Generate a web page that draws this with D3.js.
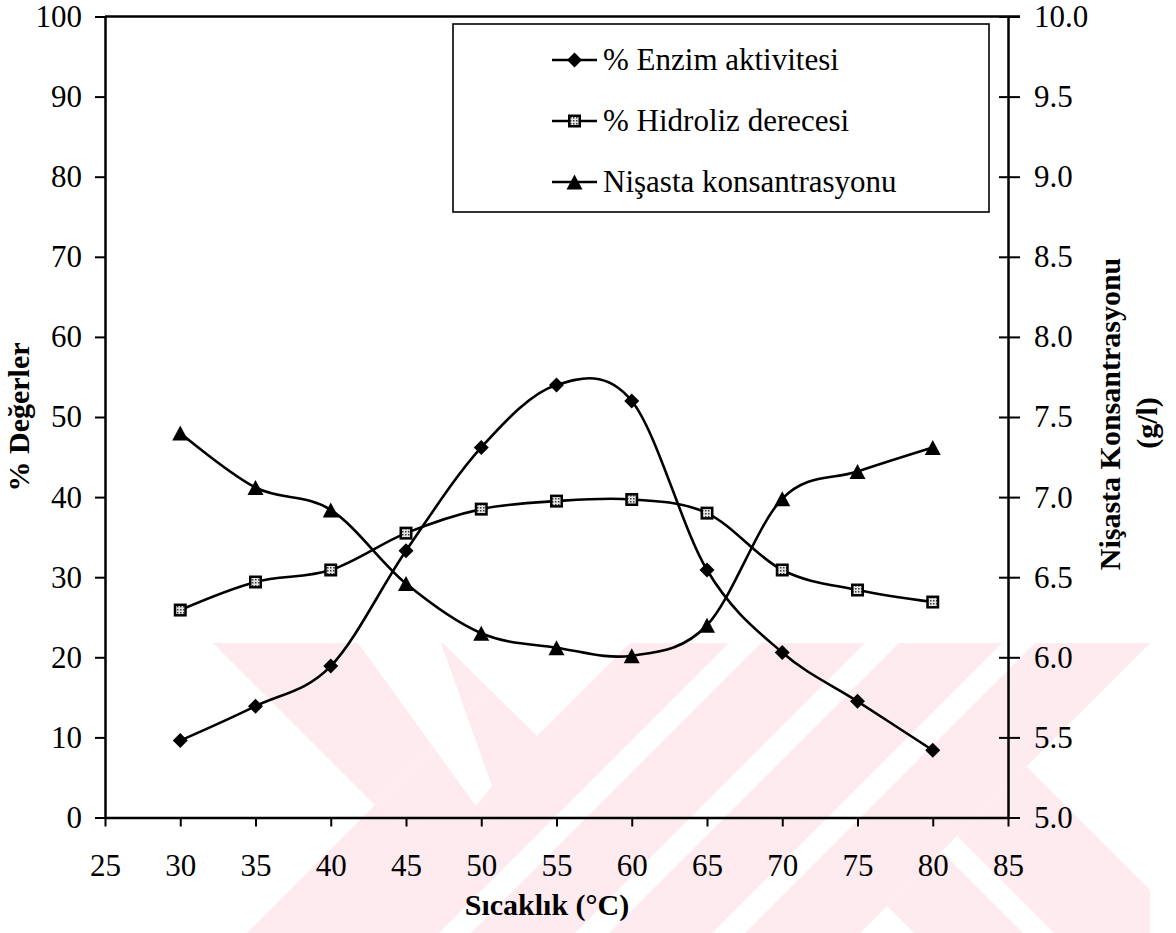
<!DOCTYPE html>
<html>
<head>
<meta charset="utf-8">
<script src="https://cdn.jsdelivr.net/npm/d3@7"></script>
<style>
  html, body { margin: 0; padding: 0; background: #fff; }
  svg { display: block; }
  svg text { font-family: "Liberation Serif", "Times New Roman", Times, serif !important; }
</style>
</head>
<body>
<svg id="chart" width="1176" height="933"></svg>
<script>
// Sıcaklık (°C) and the three measured series
const temperatures = [30, 35, 40, 45, 50, 55, 60, 65, 70, 75, 80];
const enzymeActivity = [9.6, 13.9, 18.9, 33.3, 46.2, 54.0, 52.0, 30.9, 20.6, 14.5, 8.4];
const hydrolysisDegree = [25.9, 29.4, 30.9, 35.5, 38.5, 39.5, 39.7, 38.0, 30.9, 28.4, 26.9];
const starchConcentration = [7.40, 7.06, 6.92, 6.46, 6.15, 6.06, 6.01, 6.20, 6.99, 7.16, 7.31];

// Axis ticks
const xTickValues = [25, 30, 35, 40, 45, 50, 55, 60, 65, 70, 75, 80, 85];
const leftTickValues = [0, 10, 20, 30, 40, 50, 60, 70, 80, 90, 100];
const rightTickValues = [5.0, 5.5, 6.0, 6.5, 7.0, 7.5, 8.0, 8.5, 9.0, 9.5, 10.0];

// Legend labels
const seriesNames = ["% Enzim aktivitesi", "% Hidroliz derecesi", "Nişasta konsantrasyonu"];
const markerTypes = ["diamond", "square", "triangle"];

const svg = d3.select("#chart");
const plot = { left: 105, right: 1008, top: 16.5, bottom: 817.5 };

const x = d3.scaleLinear().domain([25, 85]).range([plot.left, plot.right]);
const yLeft = d3.scaleLinear().domain([0, 100]).range([plot.bottom, plot.top]);
const yRight = d3.scaleLinear().domain([5, 10]).range([plot.bottom, plot.top]);

// ---- background watermark: pink diagonal bands ----
function clipPoly(poly, a, b, c) {
  const out = [];
  for (let i = 0; i < poly.length; i++) {
    const p = poly[i], q = poly[(i + 1) % poly.length];
    const fp = a * p[0] + b * p[1] + c, fq = a * q[0] + b * q[1] + c;
    if (fp >= 0) out.push(p);
    if ((fp >= 0) !== (fq >= 0)) {
      const t = fp / (fp - fq);
      out.push([p[0] + (q[0] - p[0]) * t, p[1] + (q[1] - p[1]) * t]);
    }
  }
  return out;
}
const markBox = [[200, 643], [1150, 643], [1150, 933], [200, 933]];
// u = x + y (bands running "/"), v = x - y (bands running "\")
function band(kind, lo, hi, extra) {
  let p = markBox.slice();
  if (kind === "u") { p = clipPoly(p, 1, 1, -lo); p = clipPoly(p, -1, -1, hi); }
  else { p = clipPoly(p, 1, -1, -lo); p = clipPoly(p, -1, 1, hi); }
  (extra || []).forEach(h => { p = clipPoly(p, h[0], h[1], h[2]); });
  return p;
}
const pinkBands = [
  band("u", 1180, 1372),
  band("u", 1404, 1508),
  band("u", 1542, 1645),
  band("u", 1678, 1793),
  band("v", -430, -200, [[-1, -1, 1180]]),
  band("v", -19, 90, [[1, 1, -1793]]),
  band("v", 121, 260, [[1, 1, -1793]])
];
const whiteCuts = [
  [[443, 643], [630, 643], [537, 736]],
  [[358, 643], [441, 643], [492, 786], [476, 806]]
];
const wm = svg.append("g").attr("class", "watermark");
wm.selectAll("path.pink").data(pinkBands).join("path")
  .attr("class", "pink")
  .attr("d", d => "M" + d.map(p => p.join(",")).join("L") + "Z")
  .attr("fill", "#fdebef");
wm.selectAll("path.cut").data(whiteCuts).join("path")
  .attr("class", "cut")
  .attr("d", d => "M" + d.map(p => p.join(",")).join("L") + "Z")
  .attr("fill", "#ffffff");

// ---- marker pattern for squares ----
const defs = svg.append("defs");
const pat = defs.append("pattern").attr("id", "speckle")
  .attr("width", 3).attr("height", 3).attr("patternUnits", "userSpaceOnUse");
pat.append("rect").attr("width", 3).attr("height", 3).attr("fill", "#e4e4e4");
pat.append("rect").attr("width", 1.5).attr("height", 1.5).attr("fill", "#3a3a3a");

// ---- axes ----
const axisStyle = g => {
  g.select(".domain").attr("stroke", "#000").attr("stroke-width", 2.5);
  g.selectAll(".tick line").attr("stroke", "#000").attr("stroke-width", 2);
  g.selectAll(".tick text").attr("fill", "#000").attr("font-size", 31);
};

svg.append("g")
  .attr("transform", `translate(0,${plot.bottom})`)
  .call(d3.axisBottom(x).tickValues(xTickValues).tickFormat(d3.format("d"))
    .tickSize(9).tickSizeOuter(0).tickPadding(27))
  .call(axisStyle);

svg.append("g")
  .attr("transform", `translate(${plot.left},0)`)
  .call(d3.axisLeft(yLeft).tickValues(leftTickValues).tickFormat(d3.format("d"))
    .tickSize(10).tickSizeOuter(0).tickPadding(13))
  .call(axisStyle);

const rightAxis = svg.append("g")
  .attr("transform", `translate(${plot.right},0)`)
  .call(d3.axisRight(yRight).tickValues(rightTickValues).tickFormat(d3.format(".1f"))
    .tickSize(12).tickSizeOuter(0).tickPadding(14))
  .call(axisStyle);
rightAxis.selectAll(".tick line").attr("x1", -9);

// top border of the plot box
svg.append("line")
  .attr("x1", plot.left).attr("x2", plot.right + 12)
  .attr("y1", plot.top).attr("y2", plot.top)
  .attr("stroke", "#000").attr("stroke-width", 2.5);

// ---- axis titles ----
svg.append("text")
  .attr("transform", "translate(29,417) rotate(-90)")
  .attr("text-anchor", "middle").attr("font-size", 30).attr("font-weight", "bold")
  .text("% Değerler");
svg.append("text")
  .attr("x", 547).attr("y", 915)
  .attr("text-anchor", "middle").attr("font-size", 30).attr("font-weight", "bold")
  .text("Sıcaklık (°C)");
svg.append("text")
  .attr("transform", "translate(1120,414) rotate(-90)")
  .attr("text-anchor", "middle").attr("font-size", 30).attr("font-weight", "bold")
  .text("Nişasta Konsantrasyonu");
svg.append("text")
  .attr("transform", "translate(1157,423) rotate(-90)")
  .attr("text-anchor", "middle").attr("font-size", 30).attr("font-weight", "bold")
  .text("(g/l)");

// ---- markers ----
function drawMarker(g, type, cx, cy) {
  if (type === "diamond") {
    g.append("path")
      .attr("d", `M${cx},${cy - 7.5}L${cx + 7.5},${cy}L${cx},${cy + 7.5}L${cx - 7.5},${cy}Z`)
      .attr("fill", "#000");
  } else if (type === "square") {
    g.append("rect").attr("x", cx - 6.5).attr("y", cy - 6.5)
      .attr("width", 13).attr("height", 13).attr("fill", "#000");
    g.append("rect").attr("x", cx - 4).attr("y", cy - 4)
      .attr("width", 8).attr("height", 8).attr("fill", "url(#speckle)");
  } else {
    g.append("path")
      .attr("d", `M${cx},${cy - 7.5}L${cx + 8},${cy + 7.5}L${cx - 8},${cy + 7.5}Z`)
      .attr("fill", "#000");
  }
}

// ---- series ----
const seriesData = [
  { values: enzymeActivity, scale: yLeft, marker: "diamond" },
  { values: hydrolysisDegree, scale: yLeft, marker: "square" },
  { values: starchConcentration, scale: yRight, marker: "triangle" }
];
const smooth = d3.line().curve(d3.curveCatmullRom.alpha(0));

seriesData.forEach(s => {
  const pts = temperatures.map((t, i) => [x(t), s.scale(s.values[i])]);
  svg.append("path")
    .attr("d", smooth(pts))
    .attr("fill", "none").attr("stroke", "#000").attr("stroke-width", 2.6)
    .attr("stroke-linejoin", "round");
  const mg = svg.append("g");
  pts.forEach(p => drawMarker(mg, s.marker, p[0], p[1]));
});

// ---- legend ----
const legend = svg.append("g");
legend.append("rect")
  .attr("x", 453).attr("y", 24).attr("width", 536).attr("height", 188)
  .attr("fill", "#fff").attr("stroke", "#000").attr("stroke-width", 1.6);
const rowY = [60, 121, 182];
seriesNames.forEach((name, i) => {
  const y = rowY[i];
  legend.append("line")
    .attr("x1", 552).attr("x2", 597).attr("y1", y).attr("y2", y)
    .attr("stroke", "#000").attr("stroke-width", 2.6);
  drawMarker(legend, markerTypes[i], 574.5, y);
  legend.append("text")
    .attr("x", 603).attr("y", y + 10)
    .attr("font-size", 31).attr("fill", "#000")
    .text(name);
});
</script>
</body>
</html>
